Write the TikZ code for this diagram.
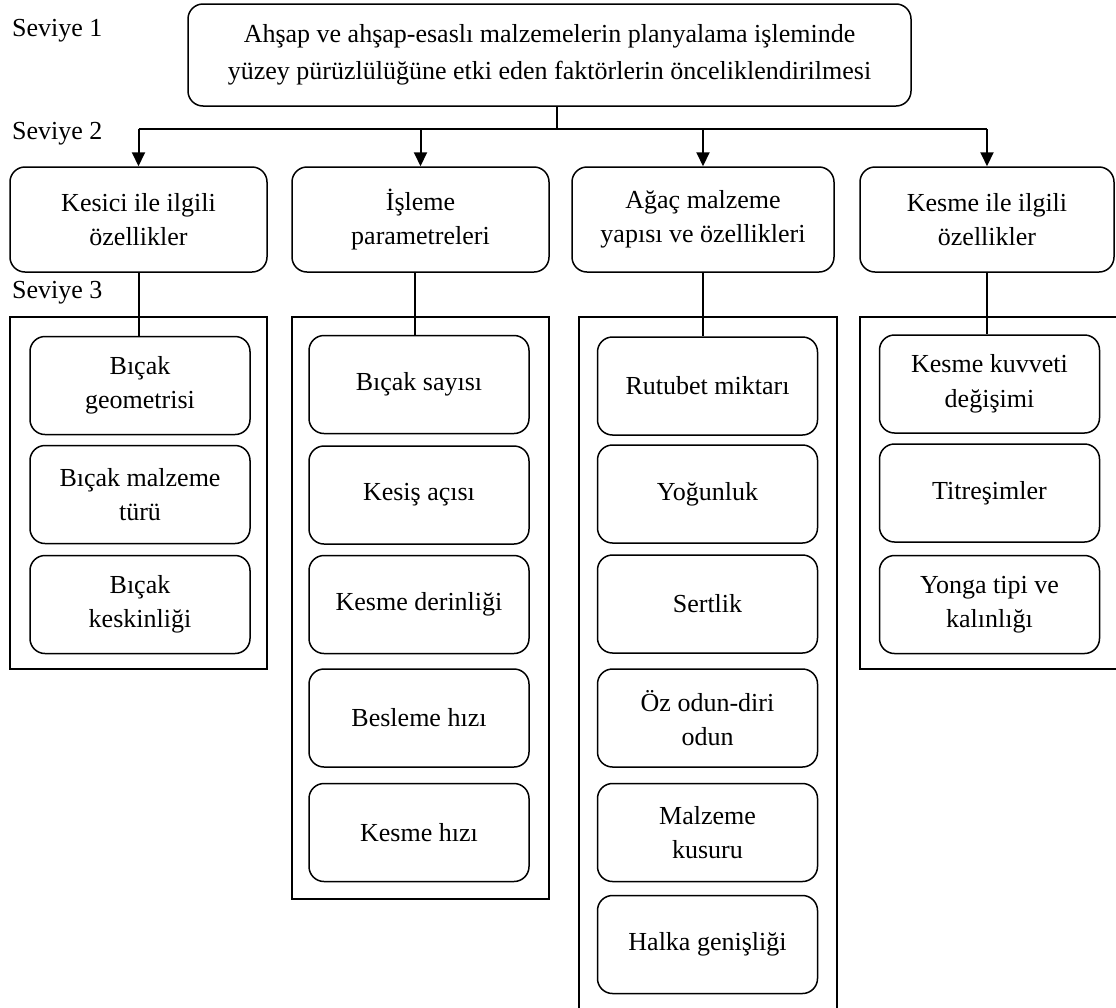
\documentclass[tikz,border=0pt]{standalone}
\usepackage{fontspec}
\setmainfont{Liberation Serif}
\usetikzlibrary{arrows.meta}

\begin{document}
\begin{tikzpicture}[x=1pt,y=-1pt,
  txt/.style={font=\fontsize{26}{34.5}\selectfont},
  lbl/.style={txt, inner sep=0pt, anchor=west},
  rbox/.style={draw, line width=1.5pt, rounded corners=15pt, align=center,
               txt, inner sep=0pt},
  item/.style={rbox, minimum width=220pt, minimum height=98pt},
  head/.style={rbox, minimum height=105pt},
  frame/.style={draw, line width=1.5pt},
  link/.style={line width=2pt},
  arr/.style={line width=2pt, -{Triangle[length=14pt,width=13pt]}}]

\useasboundingbox (0,0) rectangle (1116,1007);
\clip (0,0) rectangle (1116,1007);
\fill[white] (0,0) rectangle (1116,1007);

% level labels
\node[lbl] (s1) at (12,31)  {Seviye 1};
\node[lbl] (s2) at (12,134) {Seviye 2};
\node[lbl] (s3) at (12,293) {Seviye 3};

% level 1
\node[rbox, minimum width=723pt, minimum height=102pt,
      font=\fontsize{26}{37}\selectfont] (top) at (549.5,55)
  {Ahşap ve ahşap-esaslı malzemelerin planyalama işleminde\\
   yüzey pürüzlülüğüne etki eden faktörlerin önceliklendirilmesi};

% level 2
\node[head, minimum width=257pt] (ka) at (138.5,219.5) {Kesici ile ilgili\\özellikler};
\node[head, minimum width=257pt] (kb) at (420.5,219.5) {İşleme\\parametreleri};
\node[head, minimum width=262pt] (kc) at (703,219.5)   {Ağaç malzeme\\yapısı ve özellikleri};
\node[head, minimum width=254pt] (kd) at (987,219.5)   {Kesme ile ilgili\\özellikler};

% level 3 frames
\draw[frame] (10,317)  rectangle (267,669);
\draw[frame] (292,317) rectangle (549,899);
\draw[frame] (579,317) rectangle (837,1015);
\draw[frame] (860,317) rectangle (1125,669);

% level 3 items
\node[item] (a1) at (140,385.5) {Bıçak\\geometrisi};
\node[item] (a2) at (140,494.5) {Bıçak malzeme\\türü};
\node[item] (a3) at (140,604.5) {Bıçak\\keskinliği};

\node[item] (b1) at (419,384.5) {Bıçak sayısı};
\node[item] (b2) at (419,495)   {Kesiş açısı};
\node[item] (b3) at (419,604.5) {Kesme derinliği};
\node[item] (b4) at (419,718)   {Besleme hızı};
\node[item] (b5) at (419,832.5) {Kesme hızı};

\node[item] (c1) at (707.5,386)   {Rutubet miktarı};
\node[item] (c2) at (707.5,494)   {Yoğunluk};
\node[item] (c3) at (707.5,604)   {Sertlik};
\node[item] (c4) at (707.5,718)   {Öz odun-diri\\odun};
\node[item] (c5) at (707.5,832.5) {Malzeme\\kusuru};
\node[item] (c6) at (707.5,944.5) {Halka genişliği};

\node[item] (d1) at (989.5,384)   {Kesme kuvveti\\değişimi};
\node[item] (d2) at (989.5,493)   {Titreşimler};
\node[item] (d3) at (989.5,604.5) {Yonga tipi ve\\kalınlığı};

% connectors: level 1 to level 2
\coordinate (hub) at (557,129);
\draw[link] (hub |- top.south) -- (hub);
\draw[link] (ka.north |- hub) -- (kd.north |- hub);
\foreach \n in {ka,kb,kc,kd}
  \draw[arr] (\n.north |- hub) -- (\n.north);

% connectors: level 2 to level 3
\draw[link] (ka.south) -- (ka.south |- a1.north);
\draw[link] ([xshift=-6pt]kb.south) -- ([xshift=-6pt]kb.south |- b1.north);
\draw[link] (kc.south) -- (kc.south |- c1.north);
\draw[link] (kd.south) -- (kd.south |- d1.north);

\end{tikzpicture}
\end{document}
